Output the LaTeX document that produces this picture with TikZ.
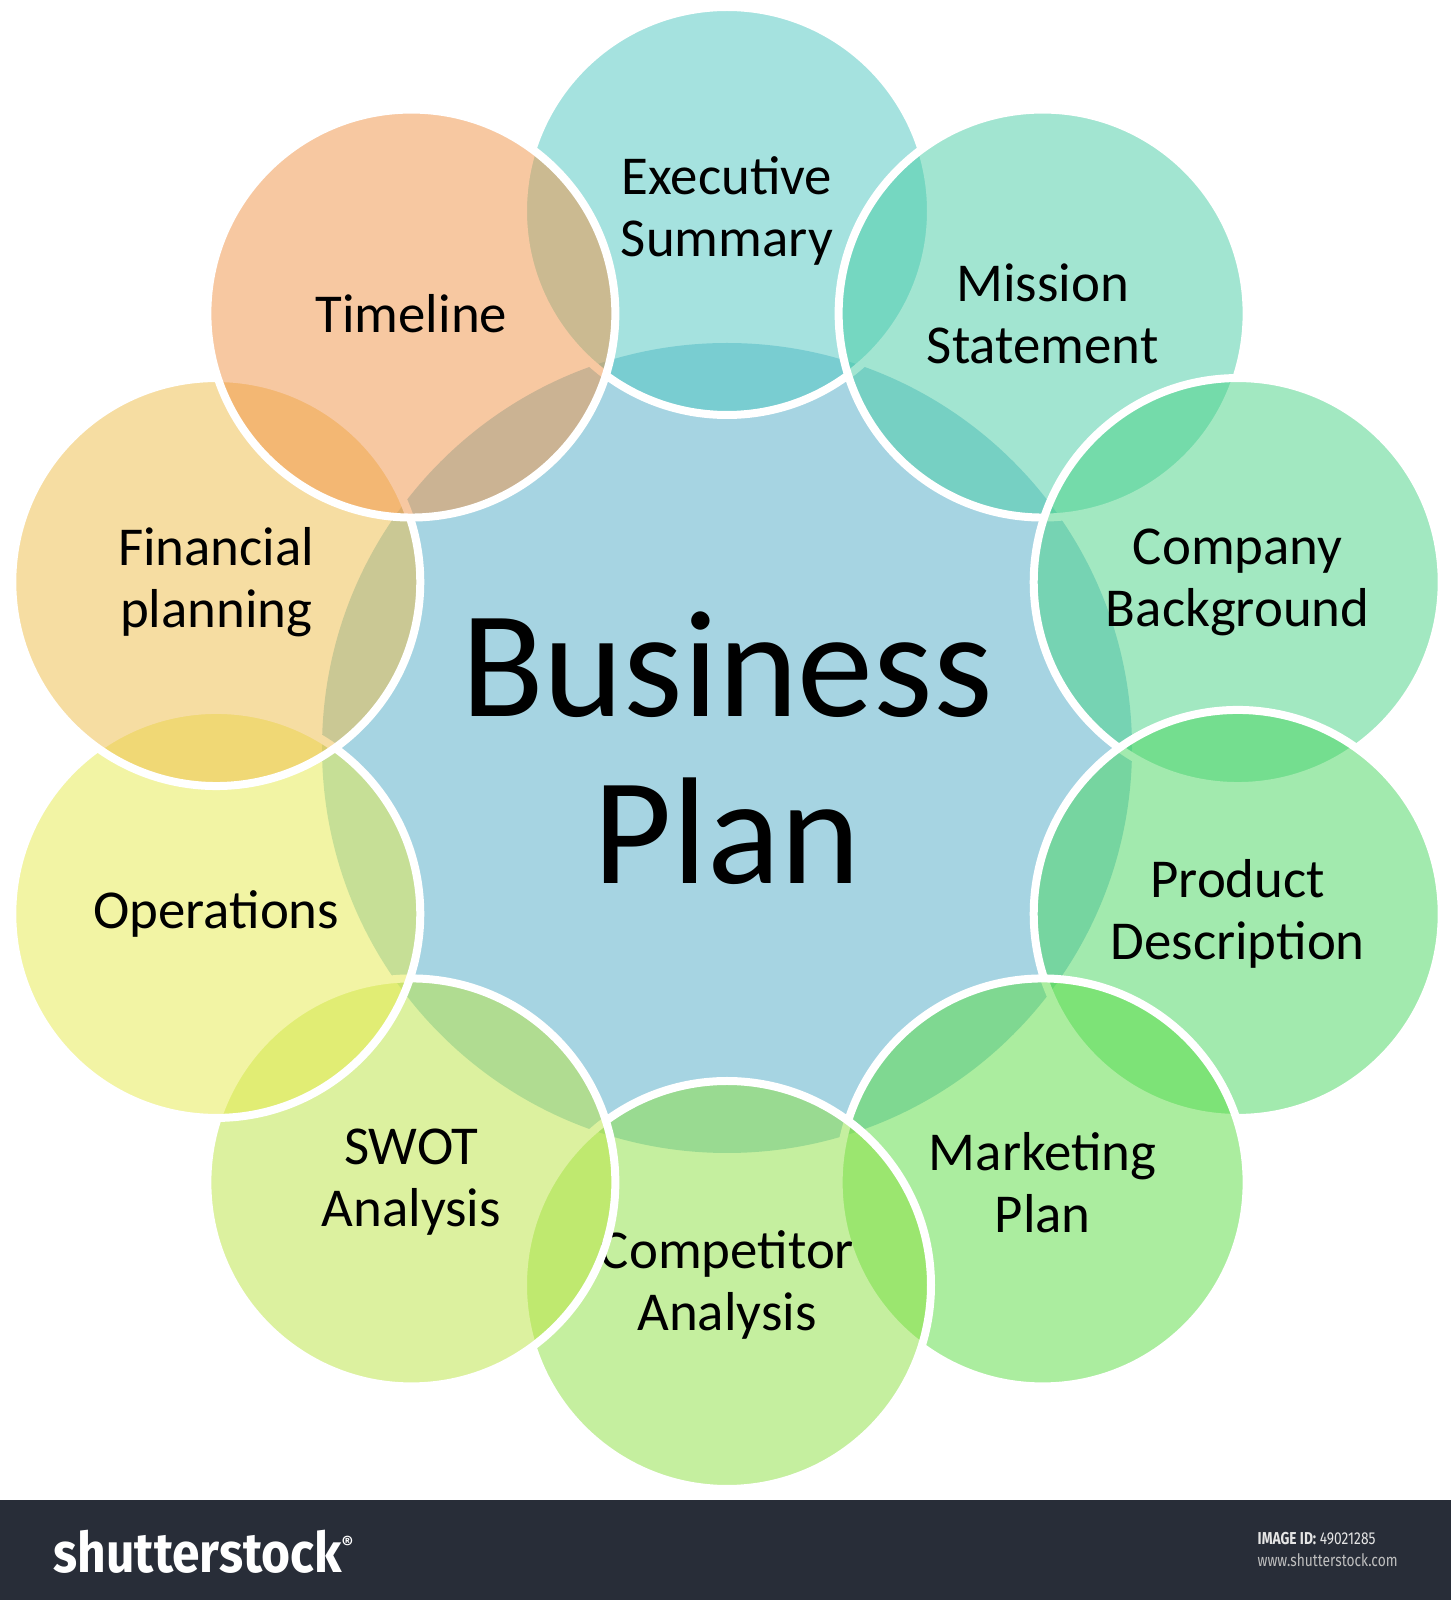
\documentclass[tikz,border=0pt]{standalone}
\usepackage{fontspec}
\setmainfont{Carlito}
\newfontfamily\logofont{Fira Sans}
\usepackage{tikz}
\usetikzlibrary{positioning,calc}
\definecolor{planblue}{RGB}{166,212,226}
\definecolor{execcol}{RGB}{77,199,193}
\definecolor{missioncol}{RGB}{71,205,165}
\definecolor{companycol}{RGB}{71,211,133}
\definecolor{productcol}{RGB}{71,214,95}
\definecolor{marketcol}{RGB}{89,221,65}
\definecolor{competcol}{RGB}{141,225,65}
\definecolor{swotcol}{RGB}{187,229,65}
\definecolor{operatcol}{RGB}{231,235,75}
\definecolor{financecol}{RGB}{239,189,71}
\definecolor{timecol}{RGB}{241,147,69}
\definecolor{bannercol}{RGB}{40,45,56}
\tikzstyle{bubble}=[circle,draw=white,line width=0.8mm,minimum size=40.8mm,inner sep=0,fill opacity=0.5,draw opacity=1,text opacity=1,align=center,font=\fontsize{15.6pt}{17.6pt}\selectfont]

\begin{document}
\begin{tikzpicture}[x=0.1mm,y=0.1mm]

	\useasboundingbox (0,0) rectangle (1451,1600);
	\fill[white] (0,0) rectangle (1451,1600);

	\node[circle, fill=planblue, minimum size=81mm, inner sep=0, align=center, font=\fontsize{43.3pt}{47.5pt}\selectfont] (plan) at (727,852) {Business\\Plan};

	% ring, clockwise from the top, each one over the last
	\node[bubble, fill=execcol] (exec) at ([shift={(90:53.7mm)}]plan.center) {Executive\\Summary};
	\node[bubble, fill=missioncol] (mission) at ([shift={(54:53.7mm)}]plan.center) {Mission\\Statement};
	\node[bubble, fill=companycol] (company) at ([shift={(18:53.7mm)}]plan.center) {Company\\Background};
	\node[bubble, fill=productcol] (product) at ([shift={(-18:53.7mm)}]plan.center) {Product\\Description};
	\node[bubble, fill=marketcol] (market) at ([shift={(-54:53.7mm)}]plan.center) {Marketing\\Plan};
	\node[bubble, fill=competcol] (compet) at ([shift={(-90:53.7mm)}]plan.center) {Competitor\\Analysis};
	\node[bubble, fill=swotcol] (swot) at ([shift={(-126:53.7mm)}]plan.center) {SWOT\\Analysis};
	\node[bubble, fill=operatcol] (operat) at ([shift={(-162:53.7mm)}]plan.center) {Operations};
	\node[bubble, fill=financecol] (finance) at ([shift={(162:53.7mm)}]plan.center) {Financial\\planning};
	\node[bubble, fill=timecol] (time) at ([shift={(126:53.7mm)}]plan.center) {Timeline};

	% footer strip
	\fill[bannercol] (0,0) rectangle (1451,100);
	\node[anchor=base west, inner sep=0, white, font=\logofont\bfseries\fontsize{15.9pt}{18pt}\selectfont] (logo) at (53,28) {\scalebox{0.89}[1]{shutterstock}\textsuperscript{\fontsize{5pt}{6pt}\selectfont ®}};
	\node[anchor=base west, inner sep=0, white!90!black, font=\logofont\fontsize{4.9pt}{6pt}\selectfont] (imgid) at (1257,56) {\scalebox{0.8}[1]{\textbf{IMAGE ID:} 49021285}};
	\node[anchor=base west, inner sep=0, white!75!black, font=\logofont\fontsize{4.9pt}{6pt}\selectfont] (site) at (1257,33) {\scalebox{0.8}[1]{www.shutterstock.com}};

\end{tikzpicture}
\end{document}
